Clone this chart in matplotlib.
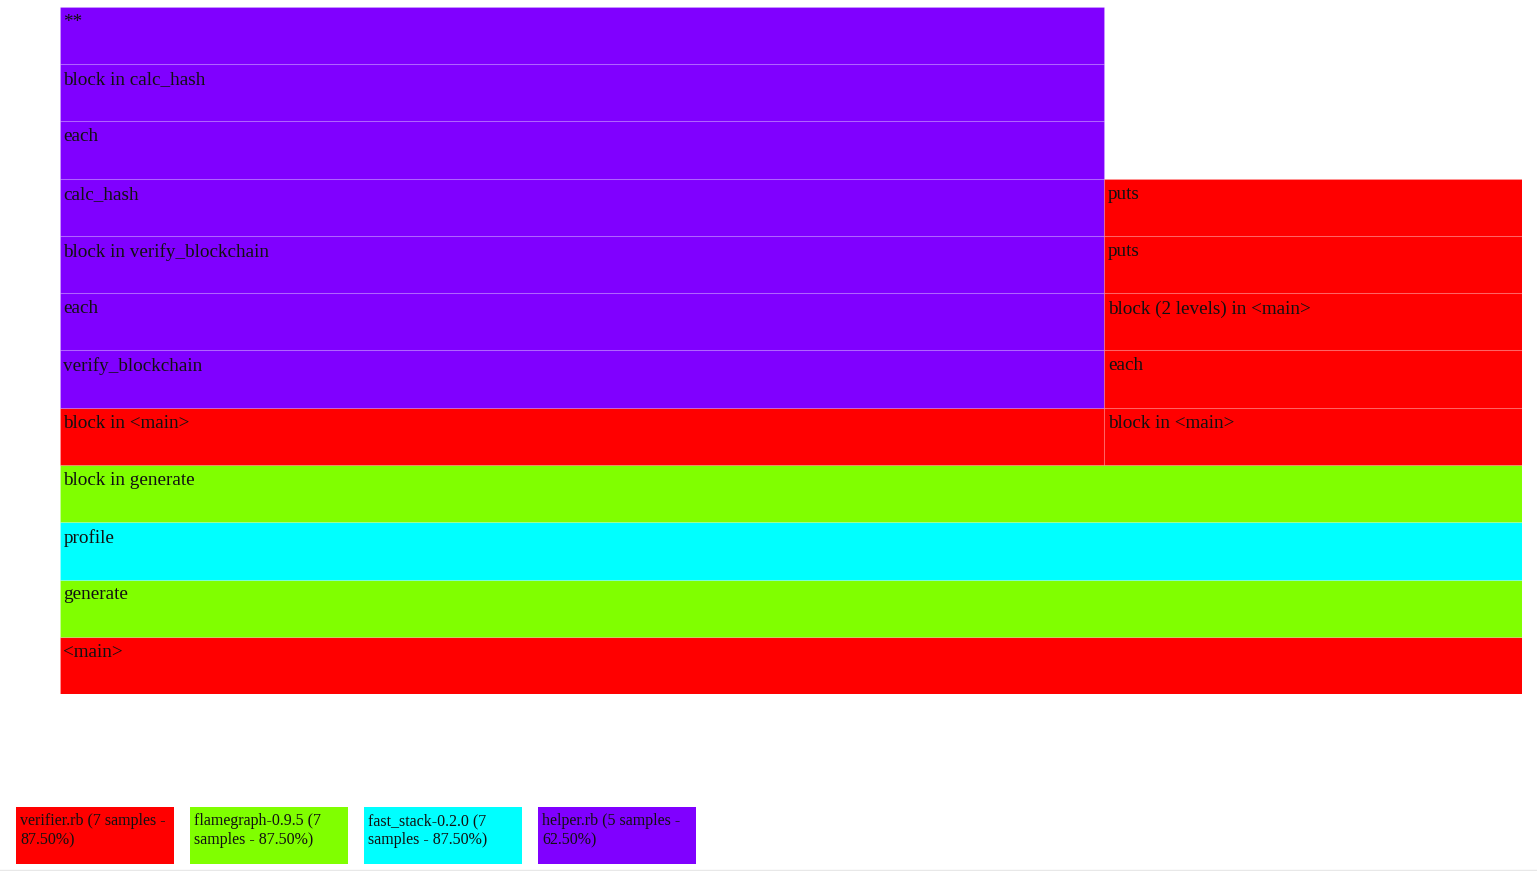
import textwrap
import matplotlib.pyplot as plt
from matplotlib.patches import Rectangle

# flame frames: name, depth (0 = bottom), start sample, width in samples, library
names = ["<main>", "generate", "profile", "block in generate",
         "block in <main>", "verify_blockchain", "each", "block in verify_blockchain",
         "calc_hash", "each", "block in calc_hash", "**",
         "block in <main>", "each", "block (2 levels) in <main>", "puts", "puts"]
depth = [0, 1, 2, 3, 4, 5, 6, 7, 8, 9, 10, 11, 4, 5, 6, 7, 8]
start = [0, 0, 0, 0, 0, 0, 0, 0, 0, 0, 0, 0, 5, 5, 5, 5, 5]
samples = [7, 7, 7, 7, 5, 5, 5, 5, 5, 5, 5, 5, 2, 2, 2, 2, 2]
lib = ["verifier", "flamegraph", "fast_stack", "flamegraph",
       "verifier", "helper", "helper", "helper", "helper", "helper", "helper", "helper",
       "verifier", "verifier", "verifier", "verifier", "verifier"]

lib_keys = ["verifier", "flamegraph", "fast_stack", "helper"]
lib_names = ["verifier.rb", "flamegraph-0.9.5", "fast_stack-0.2.0", "helper.rb"]
lib_samples = [7, 7, 7, 5]
total_samples = 8
lib_colors = {"verifier": "#ff0000", "flamegraph": "#80ff00",
              "fast_stack": "#00ffff", "helper": "#8000ff"}

W, H = 1537, 871
fig = plt.figure(figsize=(W / 100, H / 100), dpi=100)
font = ["Liberation Serif", "DejaVu Serif"]

ax = fig.add_axes([60 / W, (H - 694) / H, 1462 / W, 687 / H])
n_rows = max(depth) + 1
ax.set_xlim(0, max(samples))
ax.set_ylim(0, n_rows)
ax.axis("off")

for nm, d, s, w, lb in zip(names, depth, start, samples, lib):
    ax.barh(d, w, left=s, height=1, align="edge", color=lib_colors[lb],
            edgecolor=(1, 1, 1, 0.15), linewidth=0.8)
    ax.annotate(nm, xy=(s, d + 1), xytext=(2.5, -5), textcoords="offset points",
                ha="left", va="top", fontsize=13.8, family=font, color="#111111")

# legend
lax = fig.add_axes([0, 0, 1, 1])
lax.set_xlim(0, W)
lax.set_ylim(H, 0)
lax.axis("off")
for i, (k, n, c) in enumerate(zip(lib_keys, lib_names, lib_samples)):
    x0 = 16 + i * 174
    lax.add_patch(Rectangle((x0, 807), 158, 57, color=lib_colors[k], lw=0))
    label = f"{n} ({c} samples - {c / total_samples * 100:.2f}%)"
    label = "\n".join(textwrap.wrap(label, 24, break_on_hyphens=False))
    lax.text(x0 + 4.5, 813, label, ha="left", va="top", fontsize=11.5,
             family=font, color="#111111", linespacing=1.25)
lax.plot([0, W], [869.5, 869.5], color="#e8e8e8", lw=1)

fig.savefig("out.png", dpi=100)
